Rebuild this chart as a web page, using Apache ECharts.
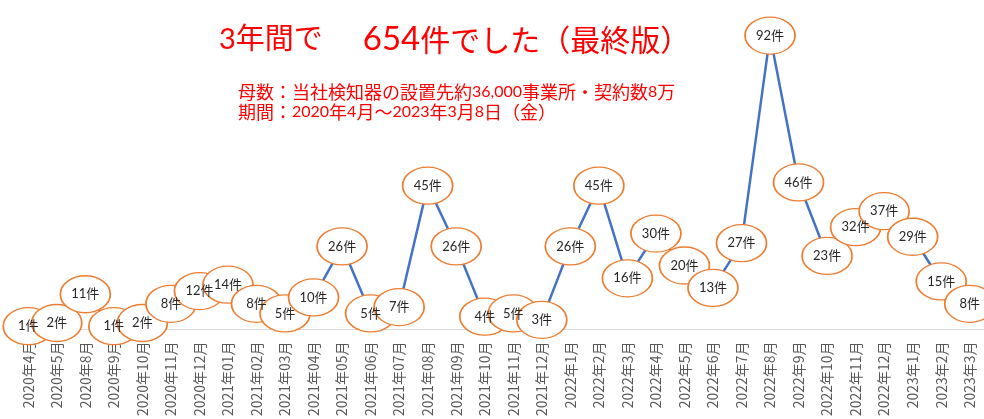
<!DOCTYPE html>
<html>
<head>
<meta charset="utf-8">
<script src="https://cdn.jsdelivr.net/npm/echarts@6/dist/echarts.min.js"></script>
<style>
  html, body { margin: 0; padding: 0; background: #fff; }
  #main { width: 984px; height: 419px; }
</style>
</head>
<body>
<div id="main"></div>
<script>
const months = [
  "2020年4月", "2020年5月", "2020年8月", "2020年9月", "2020年10月", "2020年11月", "2020年12月",
  "2021年01月", "2021年02月", "2021年03月", "2021年04月", "2021年05月", "2021年06月",
  "2021年07月", "2021年08月", "2021年09月", "2021年10月", "2021年11月", "2021年12月",
  "2022年1月", "2022年2月", "2022年3月", "2022年4月", "2022年5月", "2022年6月",
  "2022年7月", "2022年8月", "2022年9月", "2022年10月", "2022年11月", "2022年12月",
  "2023年1月", "2023年2月", "2023年3月"
];
const counts = [
  1, 2, 11, 1, 2, 8, 12,
  14, 8, 5, 10, 26, 5, 7, 45, 26, 4, 5, 3,
  26, 45, 16, 30, 20, 13, 27, 92, 46, 23, 32, 37,
  29, 15, 8
];
const titleHead = "3年間で";
const titleTotal = "654";
const titleTail = "件でした（最終版）";
const noteLines = [
  "母数：当社検知器の設置先約36,000事業所・契約数8万",
  "期間：2020年4月～2023年3月8日（金）"
];

// ellipse drawn with bezier curves, stretched to symbolSize
const ellipse = "path://M0,50 C0,22.4 22.4,0 50,0 C77.6,0 100,22.4 100,50 C100,77.6 77.6,100 50,100 C22.4,100 0,77.6 0,50 Z";
const font = "Lato, 'Noto Sans CJK JP', sans-serif";
const jp = "'Noto Sans CJK JP', sans-serif";

// wrap digit runs so they get the narrower latin style
function digits(s) {
  return s.replace(/[0-9,]+/g, m => "{n|" + m + "}");
}

let chart = echarts.init(document.getElementById("main"));
let option = {
  backgroundColor: "#ffffff",
  animation: false,
  title: [
    {
      text: "{a|" + titleHead + "}{b|" + titleTotal + "}{c|" + titleTail + "}",
      left: 214,
      top: 18,
      textStyle: {
        fontWeight: "normal",
        rich: {
          a: { color: "#ff0000", fontSize: 29, fontWeight: "normal", fontFamily: font },
          b: { color: "#ff0000", fontSize: 33, fontWeight: "normal", fontFamily: font, padding: [0, 0, 0, 40] },
          c: { color: "#ff0000", fontSize: 30, fontWeight: "normal", fontFamily: jp }
        }
      }
    },
    {
      text: noteLines.map(digits).join("\n"),
      left: 233,
      top: 77,
      textStyle: {
        color: "#ff0000",
        fontSize: 18,
        lineHeight: 20,
        fontWeight: "normal",
        fontFamily: jp,
        rich: {
          n: { color: "#ff0000", fontSize: 16, lineHeight: 20, fontWeight: "normal", fontFamily: "Lato, sans-serif" }
        }
      }
    }
  ],
  grid: {
    left: 14,
    width: 973,
    top: 10,
    height: 323
  },
  xAxis: {
    type: "category",
    data: months,
    axisLine: {
      lineStyle: { color: "#d9d9d9", width: 1 }
    },
    axisTick: { show: false },
    axisLabel: {
      rotate: 90,
      interval: 0,
      margin: 12,
      color: "#595959",
      fontSize: 14,
      fontFamily: jp
    }
  },
  yAxis: {
    type: "value",
    min: 0,
    max: 100,
    show: false,
    splitLine: { show: false }
  },
  series: [
    {
      type: "line",
      data: counts,
      symbol: ellipse,
      symbolSize: [50, 37],
      showAllSymbol: true,
      lineStyle: { color: "#4472c4", width: 2.5 },
      itemStyle: {
        color: "#ffffff",
        borderColor: "#ed7d31",
        borderWidth: 1.5
      },
      label: {
        show: true,
        position: "inside",
        formatter: "{c}件",
        color: "#262626",
        fontSize: 13,
        fontFamily: font
      },
      emphasis: { disabled: true }
    }
  ]
};
chart.setOption(option);
</script>
</body>
</html>
